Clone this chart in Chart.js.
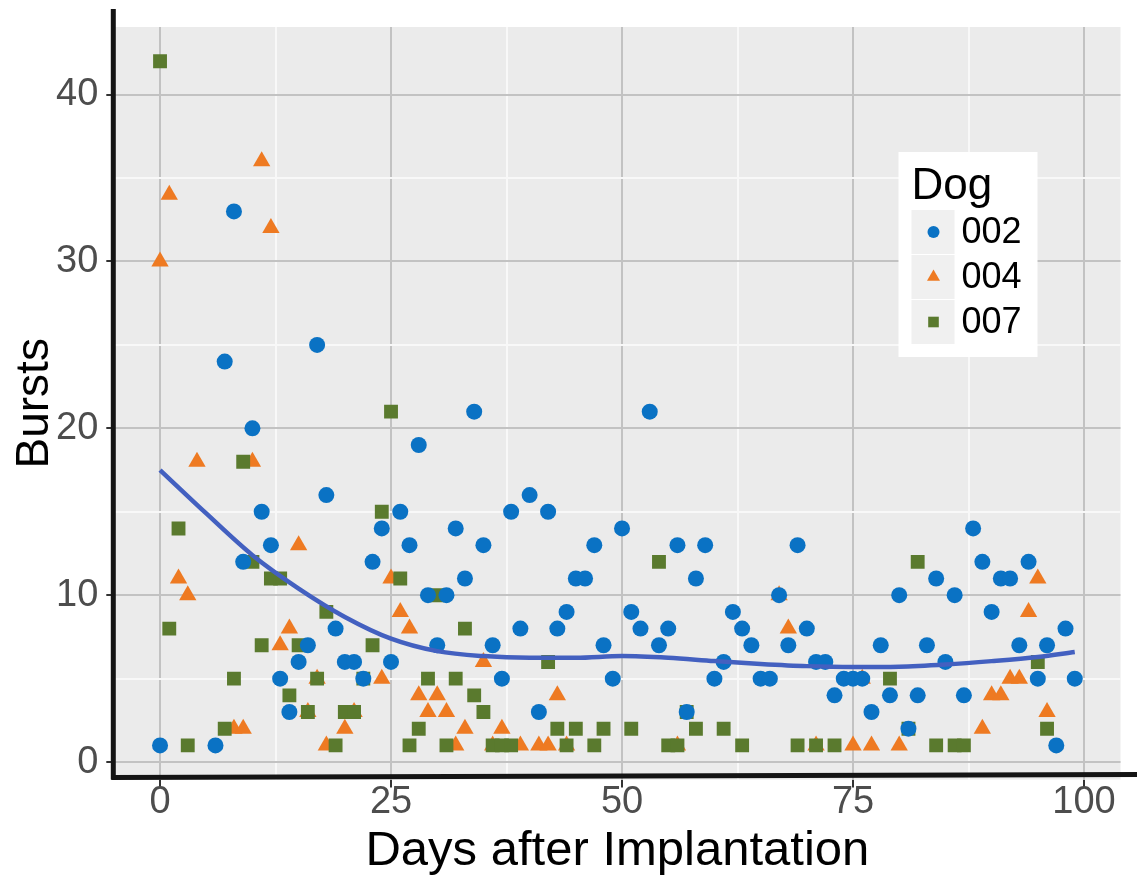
<!DOCTYPE html>
<html>
<head>
<meta charset="utf-8">
<script src="https://cdn.jsdelivr.net/npm/chart.js@4.4.1/dist/chart.umd.min.js"></script>
<style>
  html, body { margin: 0; padding: 0; background: #ffffff; }
  #wrap { width: 1137px; height: 877px; }
</style>
</head>
<body>
<div id="wrap"><canvas id="bursts-chart" width="1137" height="877"></canvas></div>
<script>
// Bursts per day for each dog
const dog002Days = [0, 6, 7, 8, 9, 10, 11, 12, 13, 14, 15, 16, 17, 18, 19, 20, 21, 22, 23, 24, 25, 26, 27, 28, 29, 30, 31, 32, 33, 34, 35, 36, 37, 38, 39, 40, 41, 42, 43, 44, 45, 46, 47, 48, 49, 50, 51, 52, 53, 54, 55, 56, 57, 58, 59, 60, 61, 62, 63, 64, 65, 66, 67, 68, 69, 70, 71, 72, 73, 74, 75, 76, 77, 78, 79, 80, 81, 82, 83, 84, 85, 86, 87, 88, 89, 90, 91, 92, 93, 94, 95, 96, 97, 98, 99];
const dog002Bursts = [1, 1, 24, 33, 12, 20, 15, 13, 5, 3, 6, 7, 25, 16, 8, 6, 6, 5, 12, 14, 6, 15, 13, 19, 10, 7, 10, 14, 11, 21, 13, 7, 5, 15, 8, 16, 3, 15, 8, 9, 11, 11, 13, 7, 5, 14, 9, 8, 21, 7, 8, 13, 3, 11, 13, 5, 6, 9, 8, 7, 5, 5, 10, 7, 13, 8, 6, 6, 4, 5, 5, 5, 3, 7, 4, 10, 2, 4, 7, 11, 6, 10, 4, 14, 12, 9, 11, 11, 7, 12, 5, 7, 1, 8, 5];

const dog004Days = [0, 1, 2, 3, 4, 8, 9, 10, 11, 12, 13, 14, 15, 16, 17, 18, 20, 21, 24, 25, 26, 27, 28, 29, 30, 31, 32, 33, 35, 36, 37, 39, 41, 42, 43, 44, 56, 67, 68, 71, 75, 76, 77, 80, 89, 90, 91, 92, 93, 94, 95, 96];
const dog004Bursts = [30, 34, 11, 10, 18, 2, 2, 18, 36, 32, 7, 8, 13, 3, 5, 1, 2, 3, 5, 11, 9, 8, 4, 3, 4, 3, 1, 2, 6, 1, 2, 1, 1, 1, 4, 1, 1, 10, 8, 1, 1, 5, 1, 1, 2, 4, 4, 5, 5, 9, 11, 3];

const dog007Days = [0, 1, 2, 3, 7, 8, 9, 10, 11, 12, 13, 14, 15, 16, 17, 18, 19, 20, 21, 22, 23, 24, 25, 26, 27, 28, 29, 30, 31, 32, 33, 34, 35, 36, 37, 38, 42, 43, 44, 45, 47, 48, 51, 54, 55, 56, 57, 58, 61, 63, 69, 71, 73, 79, 81, 82, 84, 86, 87, 95, 96];
const dog007Bursts = [42, 8, 14, 1, 2, 5, 18, 12, 7, 11, 11, 4, 7, 3, 5, 9, 1, 3, 3, 5, 7, 15, 21, 11, 1, 2, 5, 10, 1, 5, 8, 4, 3, 1, 1, 1, 6, 2, 1, 2, 1, 2, 2, 12, 1, 1, 3, 2, 2, 1, 1, 1, 1, 5, 2, 12, 1, 1, 1, 6, 2];

// smoothed trend across all dogs
const trendDays = [0, 5, 10, 15, 20, 25, 30, 35, 40, 45, 50, 55, 60, 65, 70, 75, 80, 85, 90, 95, 99];
const trendBursts = [17.5, 14.9, 12.4, 10.4, 8.7, 7.4, 6.65, 6.35, 6.25, 6.25, 6.35, 6.25, 6.05, 5.88, 5.75, 5.7, 5.72, 5.85, 6.05, 6.3, 6.6];

// major ticks get labels, the in-between ones only a white grid line
const xTicks = [0, 12.5, 25, 37.5, 50, 62.5, 75, 87.5, 100];
const yTicks = [0, 5, 10, 15, 20, 25, 30, 35, 40];

const legendOrder = ['002', '004', '007'];

const toPoints = (xs, ys) => xs.map((x, i) => ({ x: x, y: ys[i] }));

const FONT = "'Liberation Sans', Arial, sans-serif";
const TICK_FONT = "'Liberation Sans Narrow', 'Liberation Sans', Arial, sans-serif";
const MAJOR_GRID = '#c2c2c2';
const MINOR_GRID = '#f8f8f8';

// gray plotting panel behind the grid
const panelBackground = {
  id: 'panelBackground',
  beforeDraw(chart) {
    const { ctx, chartArea: a } = chart;
    ctx.save();
    ctx.fillStyle = '#ebebeb';
    ctx.fillRect(a.left, a.top, a.right - a.left, a.bottom - a.top);
    ctx.restore();
  }
};

// heavy black axis lines and the legend box
const axesAndLegend = {
  id: 'axesAndLegend',
  afterDraw(chart) {
    const { ctx, chartArea: a } = chart;
    ctx.save();
    ctx.strokeStyle = '#141414';
    ctx.lineWidth = 5;
    ctx.beginPath();
    ctx.moveTo(a.left - 1, a.top - 18);
    ctx.lineTo(a.left - 1, a.bottom);
    ctx.stroke();
    ctx.beginPath();
    ctx.moveTo(a.left - 3, a.bottom - 2);
    ctx.lineTo(chart.width, a.bottom - 5);
    ctx.stroke();

    // legend
    const bx = a.right - 222, by = a.top + 125, bw = 139, bh = 205;
    ctx.fillStyle = '#ffffff';
    ctx.fillRect(bx, by, bw, bh);
    ctx.fillStyle = '#000000';
    ctx.font = '44px ' + FONT;
    ctx.textBaseline = 'alphabetic';
    ctx.textAlign = 'left';
    ctx.fillText('Dog', bx + 13, by + 47);
    legendOrder.forEach((name, i) => {
      const d = chart.data.datasets.find(s => s.label === name);
      const ky = by + 58 + i * 45;
      ctx.fillStyle = '#f0f0f0';
      ctx.fillRect(bx + 13, ky, 43, 44);
      ctx.fillStyle = d.backgroundColor;
      Chart.helpers.drawPoint(ctx, { pointStyle: d.pointStyle, radius: d.pointStyle === 'circle' ? 6 : 7.5, rotation: 0, borderWidth: 0 }, bx + 35, ky + 22);
      ctx.fillStyle = '#000000';
      ctx.font = '36px ' + FONT;
      ctx.textBaseline = 'middle';
      ctx.fillText(d.label, bx + 63, ky + 23);
    });
    ctx.restore();
  }
};

const chartCtx = document.getElementById('bursts-chart').getContext('2d');

const burstsChart = new Chart(chartCtx, {
  type: 'scatter',
  data: {
    datasets: [
      {
        type: 'line',
        label: 'trend',
        data: toPoints(trendDays, trendBursts),
        borderColor: '#4360c0',
        borderWidth: 4.5,
        pointRadius: 0,
        cubicInterpolationMode: 'monotone',
        fill: false
      },
      {
        label: '002',
        data: toPoints(dog002Days, dog002Bursts),
        backgroundColor: '#0a72c4',
        pointStyle: 'circle',
        pointRadius: 8,
        pointBorderWidth: 0
      },
      {
        label: '007',
        data: toPoints(dog007Days, dog007Bursts),
        backgroundColor: '#5a7a2e',
        pointStyle: 'rect',
        pointRadius: 9.8,
        pointBorderWidth: 0
      },
      {
        label: '004',
        data: toPoints(dog004Days, dog004Bursts),
        backgroundColor: '#ee7a22',
        pointStyle: 'triangle',
        pointRadius: 10,
        pointBorderWidth: 0
      }
    ]
  },
  options: {
    responsive: false,
    animation: false,
    devicePixelRatio: 1,
    layout: { padding: { top: 25.3, right: 16.5, left: 0, bottom: 0 } },
    plugins: {
      legend: { display: false },
      tooltip: { enabled: false }
    },
    scales: {
      x: {
        type: 'linear',
        min: -4.95,
        max: 103.95,
        afterBuildTicks: s => { s.ticks = xTicks.map(v => ({ value: v })); },
        afterFit: s => { s.height = 97.4; },
        grid: {
          color: c => (c.tick && c.tick.value % 25 === 0) ? MAJOR_GRID : MINOR_GRID,
          lineWidth: 2,
          tickColor: c => (c.tick && c.tick.value % 25 === 0) ? '#333333' : 'rgba(0,0,0,0)',
          tickLength: 8,
          tickWidth: 2
        },
        border: { display: false },
        ticks: {
          autoSkip: false,
          maxRotation: 0,
          padding: -8,
          color: '#4d4d4d',
          font: { family: TICK_FONT, size: 38 },
          callback: v => (v % 25 === 0 ? v : '')
        },
        title: {
          display: true,
          text: 'Days after Implantation',
          color: '#000000',
          font: { family: FONT, size: 49, lineHeight: 1.05 },
          padding: { top: 0, bottom: 0 }
        }
      },
      y: {
        type: 'linear',
        min: -1.05,
        max: 44.05,
        afterBuildTicks: s => { s.ticks = yTicks.map(v => ({ value: v })); },
        afterFit: s => { s.width = 114.3; },
        grid: {
          color: c => (c.tick && c.tick.value % 10 === 0) ? MAJOR_GRID : MINOR_GRID,
          lineWidth: 2,
          tickColor: c => (c.tick && c.tick.value % 10 === 0) ? '#333333' : 'rgba(0,0,0,0)',
          tickLength: 8,
          tickWidth: 2
        },
        border: { display: false },
        ticks: {
          autoSkip: false,
          padding: 8,
          color: '#4d4d4d',
          font: { family: TICK_FONT, size: 38, lineHeight: 1 },
          callback: v => (v % 10 === 0 ? v : '')
        },
        title: {
          display: true,
          text: 'Bursts',
          color: '#000000',
          font: { family: FONT, size: 46, lineHeight: 1.2 },
          padding: { top: 8, bottom: 0 }
        }
      }
    }
  },
  plugins: [panelBackground, axesAndLegend]
});
</script>
</body>
</html>
